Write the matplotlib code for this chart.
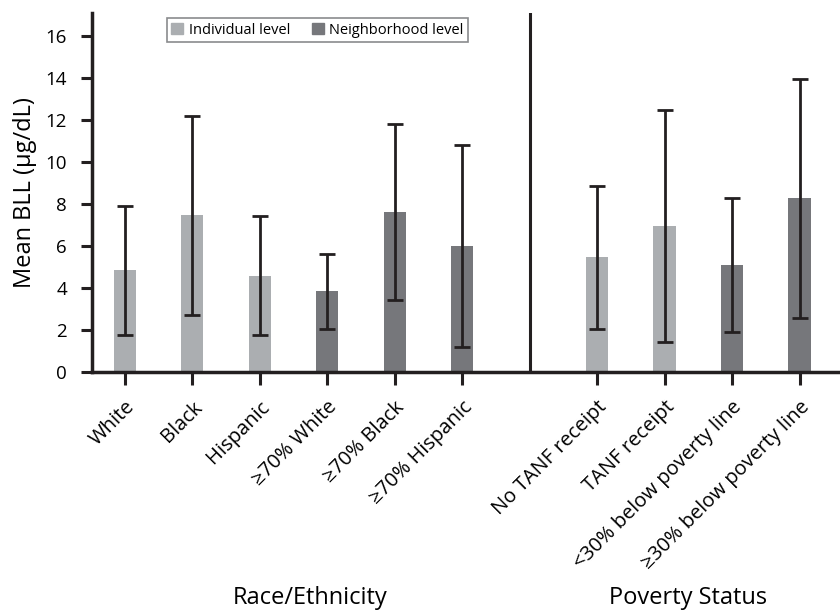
import matplotlib.pyplot as plt
from matplotlib.patches import Patch

plt.rcParams['font.family'] = ['Open Sans', 'DejaVu Sans']

# values
labels = ["White", "Black", "Hispanic", "≥70% White", "≥70% Black", "≥70% Hispanic",
          "No TANF receipt", "TANF receipt", "<30% below poverty line", "≥30% below poverty line"]
positions = [0, 1, 2, 3, 4, 5, 7, 8, 9, 10]
means = [4.86, 7.48, 4.57, 3.85, 7.62, 6.0, 5.48, 6.95, 5.1, 8.29]
err_low = [1.78, 2.73, 1.75, 2.06, 3.44, 1.2, 2.05, 1.44, 1.89, 2.59]
err_high = [7.92, 12.2, 7.43, 5.63, 11.8, 10.8, 8.84, 12.48, 8.29, 13.97]
levels = ["ind", "ind", "ind", "nbh", "nbh", "nbh", "ind", "ind", "nbh", "nbh"]

light = "#abaeb1"
dark = "#76777b"
colors = []
for lv in levels:
    if lv == "ind":
        colors.append(light)
    else:
        colors.append(dark)

yerr = [[m - lo for m, lo in zip(means, err_low)],
        [hi - m for m, hi in zip(means, err_high)]]

fig = plt.figure(figsize=(8.4, 6.11), dpi=100)
ax = fig.add_axes([0.1095, 0.391, 0.8905, 0.588])

ax.bar(positions, means, width=0.33, color=colors, zorder=2)
ax.errorbar(positions, means, yerr=yerr, fmt="none", ecolor="#231f20",
            elinewidth=2, capsize=6, capthick=2, zorder=3)

# divider between the two groups
ax.axvline(6, color="#231f20", linewidth=2.2, zorder=1)

ax.set_xlim(-0.486, 10.6)
ax.set_ylim(0, 17.1)
ax.set_yticks([0, 2, 4, 6, 8, 10, 12, 14, 16])
ax.set_xticks(positions)
ax.set_xticklabels(labels, rotation=45, ha="right", rotation_mode="anchor", fontsize=14.5)

for side in ["top", "right"]:
    ax.spines[side].set_visible(False)
for side in ["left", "bottom"]:
    ax.spines[side].set_linewidth(2.5)
    ax.spines[side].set_color("#231f20")

ax.tick_params(axis="y", labelsize=13.5, length=8, width=2.2, pad=10, color="#231f20")
ax.tick_params(axis="x", length=9, width=2.2, pad=9, color="#231f20")
ax.set_ylabel("Mean BLL (µg/dL)", fontsize=17, labelpad=6)

handles = [Patch(color=light, label="Individual level"),
           Patch(color=dark, label="Neighborhood level")]
leg = ax.legend(handles=handles, loc="upper left", bbox_to_anchor=(0.1, 0.985), ncol=2,
                fontsize=10.5, frameon=True, fancybox=False, handlelength=0.8, handleheight=0.8,
                columnspacing=1.5, handletextpad=0.4, borderpad=0.3, borderaxespad=0)
leg.get_frame().set_edgecolor("#6d6e71")
leg.get_frame().set_linewidth(1.2)

fig.text(310 / 840, 1 - 598 / 611, "Race/Ethnicity", ha="center", va="center", fontsize=17)
fig.text(688 / 840, 1 - 598 / 611, "Poverty Status", ha="center", va="center", fontsize=17)

fig.savefig("out.png", dpi=100)
